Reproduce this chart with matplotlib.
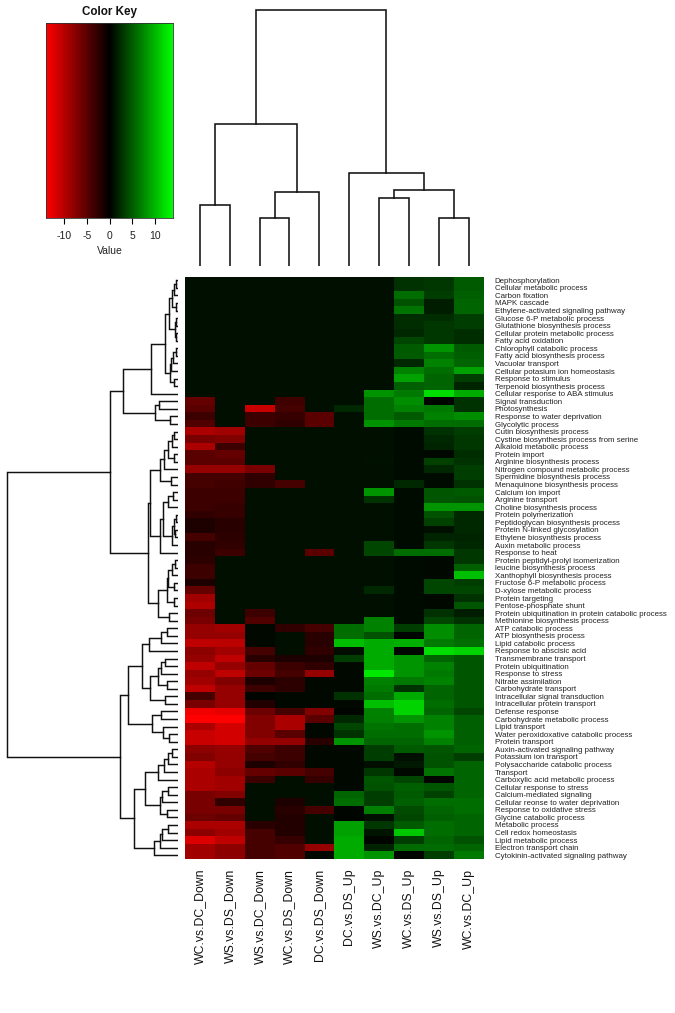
import numpy as np
import matplotlib
matplotlib.use("Agg")
import matplotlib.pyplot as plt
from matplotlib.colors import LinearSegmentedColormap

plt.rcParams['font.family'] = ['Liberation Sans', 'DejaVu Sans']

W, H = 675, 1013

row_labels = [
    "Dephosphorylation", "Cellular metabolic process", "Carbon fixation", "MAPK cascade",
    "Ethylene-activated signaling pathway", "Glucose 6-P metabolic process",
    "Glutathione biosynthesis process", "Cellular protein metabolic process", "Fatty acid oxidation",
    "Chlorophyll catabolic process", "Fatty acid biosynthesis process", "Vacuolar transport",
    "Cellular potasium ion homeostasis", "Response to stimulus", "Terpenoid biosynthesis process",
    "Cellular response to ABA stimulus", "Signal transduction", "Photosynthesis",
    "Response to water deprivation", "Glycolytic process", "Cutin biosynthesis process",
    "Cystine biosynthesis process from serine", "Alkaloid metabolic process", "Protein import",
    "Arginine biosynthesis process", "Nitrogen compound metabolic process",
    "Spermidine biosynthesis process", "Menaquinone biosynthesis process", "Calcium ion import",
    "Arginine transport", "Choline biosynthesis process", "Protein polymerization",
    "Peptidoglycan biosynthesis process", "Protein N-linked glycosylation",
    "Ethylene biosynthesis process", "Auxin metabolic process", "Response to heat",
    "Protein peptidyl-prolyl isomerization", "leucine biosynthesis process",
    "Xanthophyll biosynthesis process", "Fructose 6-P metabolic process", "D-xylose metabolic process",
    "Protein targeting", "Pentose-phosphate shunt", "Protein ubiquitination in protein catabolic process",
    "Methionine biosynthesis process", "ATP catabolic process", "ATP biosynthesis process",
    "Lipid catabolic process", "Response to abscisic acid", "Transmembrane transport",
    "Protein ubiquitination", "Response to stress", "Nitrate assimilation", "Carbohydrate transport",
    "Intracellular signal transduction", "Intracellular protein transport", "Defense response",
    "Carbohydrate metabolic process", "Lipid transport", "Water peroxidoxative catabolic process",
    "Protein transport", "Auxin-activated signaling pathway", "Potassium ion transport",
    "Polysaccharide catabolic process", "Transport", "Carboxylic acid metabolic process",
    "Cellular response to stress", "Calcium-mediated signaling", "Cellular reonse to water deprivation",
    "Response to oxidative stress", "Glycine catabolic process", "Metabolic process",
    "Cell redox homeostasis", "Lipid metabolic process", "Electron transport chain",
    "Cytokinin-activated signaling pathway",
]

col_labels = ["WC.vs.DC_Down", "WS.vs.DS_Down", "WS.vs.DC_Down", "WC.vs.DS_Down", "DC.vs.DS_Down",
              "DC.vs.DS_Up", "WS.vs.DC_Up", "WC.vs.DS_Up", "WS.vs.DS_Up", "WC.vs.DC_Up"]

z = 0.8  # cells with no enrichment show as very dark green

wc_dc_down = [z]*16 + [-5.5, -5, -3.3, -4.4, -9.3, -6.6, -9.3, -5, -5, -8.2, -3.8, -3.8, -3.3, -3.3, -3.3, -2.7,
    -1.6, -1.6, -3.8, -2.2, -2.2, -2.5, -3.3, -3.3, -1.6, -5.5, -8.8, -9.6, -6, -6.6, -8.2, -8.2, -10.4, -7.7,
    -8.2, -10.4, -8.2, -8.8, -10.4, -3.8, -6.6, -13.2, -14, -9.3, -11, -11, -7.7, -7.1, -9.9, -9.3, -9.3, -9.3,
    -6.6, -6.6, -6.6, -6, -9.3, -7.7, -12.1, -8.8, -8.8]
ws_ds_down = [z]*20 + [-8.8, -7.1, -3.3, -5.5, -5, -8.2, -3.8, -3.6, -3.3, -3.3, -3, -3, -2.2, -2.2, -2.5, -2.7,
    -3.3] + [z]*9 + [-8.8, -8.2, -10.2, -8.8, -10.4, -8.2, -10.4, -7.1, -8.2, -8.2, -8.2, -12.6, -14, -11.5, -11.5,
    -11.5, -8.2, -8.2, -8.2, -7.7, -8.8, -8.8, -7.1, -2.7, -6.6, -5.5, -9.3, -8.8, -10.4, -7.7, -7.7]
ws_dc_down = [z]*17 + [-11, -3.3, -3.3] + [z]*5 + [-6.6, -2.7, -2.7] + [z]*16 + [-3.3, -4.4, 0.5, 0.5, 0.5, -3.8,
    -2.2, -5.5, -6, -1.6, -3.3, 0.3, -1.9, -6, -7.1, -7.1, -7.1, -8.2, -4.4, -3.8, -1.6, -5.5, -3.3, z, z, z, z, z,
    -2.2, -3.8, -3.8, -3.8, -3.8]
wc_ds_down = [z]*16 + [-3.5, -3.8, -3, -2.7] + [z]*7 + [-3.8] + [z]*18 + [-2.7, z, z, z, -1.6, -3.3, -3.8, -2.5,
    -2.5, 0.5, 0.5, -3.8, -9.3, -9.3, -5, -8.2, -3.3, -3.3, -2.7, -5, z, z, z, -1.6, -2.2, -1.9, -1.9, -1.9, -3,
    -4.4, -4.4]
dc_ds_down = [z]*18 + [-5, -5] + [z]*16 + [-5] + [z]*9 + [-3.8, -2.2, -2.2, -2.7, -1.6, -2.7, -8.2, 0.5, 0.5, 0.5,
    0.5, -7.1, -5, 0.5, 0.5, -2.2, 0.5, 0.5, 0.5, -3.8, -3, z, z, z, -3.8, z, z, z, z, -8.2, 0.5]
dc_ds_up = [z]*17 + [2.2] + [z]*28 + [6, 6, 10.4, 0.7, 3.3, 0.5, 0.5, 0.5, 0.5, 2.7, 0.5, 0.3, 2.2, 3.8, 2.7, 8.2,
    0.5, 0.5, 0.5, 0.5, 0.5, 0.5, 5.5, 6, 0.3, 0.3, 8.8, 8.8, 9.3, 9.3, 9.3]
ws_dc_up = [z]*15 + [8, 6, 6, 6, 8] + [z]*4 + [0.9] + [z]*3 + [8.2, 2.7] + [z]*5 + [3.8, 3.8] + [z]*4 + [2.2] \
    + [z]*3 + [7, 7, 4.4, 9.3, 9.3, 9.3, 9.3, 12.6, 7.1, 6.6, 6, 10.4, 7.1, 6.9, 6.3, 6, 5.5, 3.3, 3.3, 0.8, 3,
    4.7, 4.4, 3.3, 3.3, 6.9, 0.8, 3, 1.1, 0.3, 1.9, 8.2]
wc_ds_up = [2.7, 2.7, 6, 4.4, 6.3, 2.5, 2.5, 2.2, 3.8, 5, 5, 2.2, 7.1, 8.8, 5.2, 6.6, 7.7, 7.1, 5, 6.6] + [0.6]*7 \
    + [2.2] + [0.6]*8 + [6] + [0.6]*9 + [3.3, 0.3, 9.6, 0.3, 8.2, 8.2, 8.2, 6.6, 2.7, 9.3, 11.5, 11.5, 8.2, 6, 6,
    5.5, 5, 0.8, 1.4, 0.5, 3.8, 5.2, 5, 5.2, 4.1, 3.8, 5, 11, 3.3, 5.8, 0.3]
ws_ds_up = [3, 3, 3.3, 1.6, 1.6, 2.5, 3, 3, 3, 8.2, 6, 7.1, 6, 5.5, 5.5, 12.1, 0.3, 6.6, 7.1, 6, 2.7, 2.2, 1.9, 0.5,
    3.6, 2.2, 0.6, 0.6, 4.7, 4.7, 8.2, 4.4, 3.6, 0.8, 1.9, 3, 6, 0.5, 0.5, 0.5, 3.8, 3.8, 0.5, 0.5, 2.7, 3.8, 7.7,
    7.7, 6.6, 12.1, 5.5, 7.1, 6.6, 7.1, 5.5, 5.5, 6, 5.5, 7.1, 7.1, 8.2, 7.1, 4.7, 4.4, 4.4, 6.3, 0.3, 4.7, 3.6, 6,
    5.5, 5.2, 6, 6, 5.5, 5.8, 3.3]
wc_dc_up = [5, 5, 5.2, 5.5, 5.5, 3.3, 3.3, 2.5, 2.5, 5, 5.2, 5.5, 8.8, 3.3, 1.9, 9.3, 2.7, 2.7, 7.7, 6, 3.3, 3, 3,
    2.5, 2.7, 3.3, 3.3, 2.7, 5, 4.4, 8.2, 2.2, 2.2, 2.2, 1.9, 2.2, 3, 3, 5.2, 10.4, 3.3, 3.8, 2.7, 4.7, 1.6, 2.7,
    5.5, 5.5, 6, 11.5, 4.7, 4.7, 4.7, 4.7, 4.7, 4.7, 4.7, 3.8, 5.2, 5.2, 5.2, 5.2, 5.5, 3.3, 5.5, 5.5, 5.5, 5.5, 5.5,
    6, 6, 5.5, 5.5, 5.5, 4.4, 5.5, 6.6]

columns = [wc_dc_down, ws_ds_down, ws_dc_down, wc_ds_down, dc_ds_down,
           dc_ds_up, ws_dc_up, wc_ds_up, ws_ds_up, wc_dc_up]

# Column dendrogram: (left, right, merge distance); leaves are column numbers
c_left = ((0, 1, 61), ((2, 3, 48), 4, 74), 142)
c_right = (5, ((6, 7, 68), (8, 9, 48), 76), 93)
col_tree = (c_left, c_right, 256)

# Row dendrogram: leaves are row numbers counted from 1
r1_5 = (((1, 2, 2), 3, 4), (4, 5, 2), 6)
r6_9 = ((6, 7, 2), (8, 9, 2), 3)
r1_9 = (r1_5, r6_9, 9)
r10_13 = (((10, 11, 2), 12, 5), 13, 7)
r10_15 = (r10_13, (14, 15, 4), 8)
a1a = ((r1_9, r10_15, 13), 16, 27)
a1b = ((17, 18, 19), (19, 20, 8), 23)
a1 = (a1a, a1b, 55)
r21_23 = ((21, 22, 4), 23, 6)
r21_25 = (r21_23, (24, 25, 4), 10)
r21_26 = (r21_25, 26, 14)
r21_28 = (r21_26, (27, 28, 7), 18)
r29_31 = ((29, 30, 5), 31, 10)
r32_35 = ((32, 33, 2), (34, 35, 3), 4)
r32_36 = (r32_35, 36, 6)
r29_36 = (r29_31, r32_36, 15)
r29_37 = (r29_36, 37, 18)
r38_40 = ((38, 39, 3), 40, 6)
r38_42 = (r38_40, (41, 42, 4), 10)
r38_44 = (r38_42, (43, 44, 4), 11)
a2 = ((r21_28, r29_37, 28), (r38_44, (45, 46, 9), 20), 30)
r47_50 = (((47, 48, 11), 49, 17), 50, 29)
r51_53 = ((51, 52, 13), 53, 17)
r51_55 = (r51_53, (54, 55, 11), 20)
r51_57 = (r51_55, (56, 57, 13), 28)
b1a = (r47_50, r51_57, 36)
b1b = ((58, 59, 17), (60, (61, 62, 9), 15), 26)
r63_67 = ((((63, 64, 6), 65, 10), 66, 14), 67, 20)
r68_72 = (((68, 69, 10), 70, 16), (71, 72, 11), 18)
b2a = (r63_67, r68_72, 33)
b2b = ((((73, 74, 10), 75, 16), 76, 18), 77, 24)
row_tree = ((a1, a2, 68), ((b1a, b1b, 50), (b2a, b2b, 44), 58), 171)

key_ticks = [-10, -5, 0, 5, 10]
value_limit = 14


def px_axes(left, top, right, bottom):
    return fig.add_axes([left / W, 1 - bottom / H, (right - left) / W, (bottom - top) / H])


def walk(node, leaf_pos, segs):
    """Return (position, height) of a node; collect the bracket of every merge."""
    if not isinstance(node, tuple):
        return leaf_pos(node), 0
    p1, h1 = walk(node[0], leaf_pos, segs)
    p2, h2 = walk(node[1], leaf_pos, segs)
    h = node[2]
    segs.append(([p1, p1, p2, p2], [h1, h, h, h2]))
    return (p1 + p2) / 2, h


fig = plt.figure(figsize=(W / 100, H / 100), dpi=100, facecolor='white')
cmap = LinearSegmentedColormap.from_list('rbg', ['#ff0000', '#000000', '#00ff00'], N=256)

# Heat map
data = np.array(columns).T
ax = px_axes(185, 276.5, 483.5, 859)
ax.imshow(data, cmap=cmap, vmin=-value_limit, vmax=value_limit, aspect='auto', interpolation='nearest')
ax.set_xticks(range(len(col_labels)))
ax.set_xticklabels(col_labels, rotation=90, fontsize=8.8, color='#111111')
ax.set_yticks(range(len(row_labels)))
ax.set_yticklabels(row_labels, fontsize=5.7, color='#222222')
ax.yaxis.tick_right()
ax.tick_params(axis='both', length=0)
ax.tick_params(axis='y', pad=8)
ax.tick_params(axis='x', pad=7)
for s in ax.spines.values():
    s.set_visible(False)

# Column dendrogram
ax_c = px_axes(185, 0, 483.5, 266)
segs = []
walk(col_tree, lambda i: i, segs)
for xs, ys in segs:
    ax_c.plot(xs, ys, color='#111111', lw=1.15, solid_joinstyle='miter')
ax_c.set_xlim(-0.5, len(col_labels) - 0.5)
ax_c.set_ylim(0, 266)
ax_c.axis('off')

# Row dendrogram
ax_r = px_axes(0, 276.5, 178, 859)
segs = []
walk(row_tree, lambda i: i - 1, segs)
for ys, xs in segs:
    ax_r.plot(xs, ys, color='#111111', lw=1.05, solid_joinstyle='miter')
ax_r.set_xlim(178, 0)
ax_r.set_ylim(len(row_labels) - 0.5, -0.5)
ax_r.axis('off')

# Colour key
ax_k = px_axes(46, 23, 173, 218)
grad = np.linspace(-value_limit, value_limit, 256)[None, :]
ax_k.imshow(grad, cmap=cmap, vmin=-value_limit, vmax=value_limit, aspect='auto',
            extent=[-value_limit, value_limit, 0, 1], interpolation='bilinear')
ax_k.set_xticks(key_ticks)
ax_k.set_xticklabels([str(t) for t in key_ticks], fontsize=7.5, color='#222222')
ax_k.set_yticks([])
ax_k.tick_params(axis='x', length=4.3, width=0.8, pad=5)
for s in ax_k.spines.values():
    s.set_linewidth(0.6)
    s.set_color('#333333')
fig.text(109.5 / W, 1 - 12 / H, "Color Key", fontsize=8.4, fontweight='bold', ha='center', va='center', color='#111111')
fig.text(109.5 / W, 1 - 251 / H, "Value", fontsize=7.5, ha='center', va='center', color='#222222')

fig.savefig('out.png', dpi=100)
